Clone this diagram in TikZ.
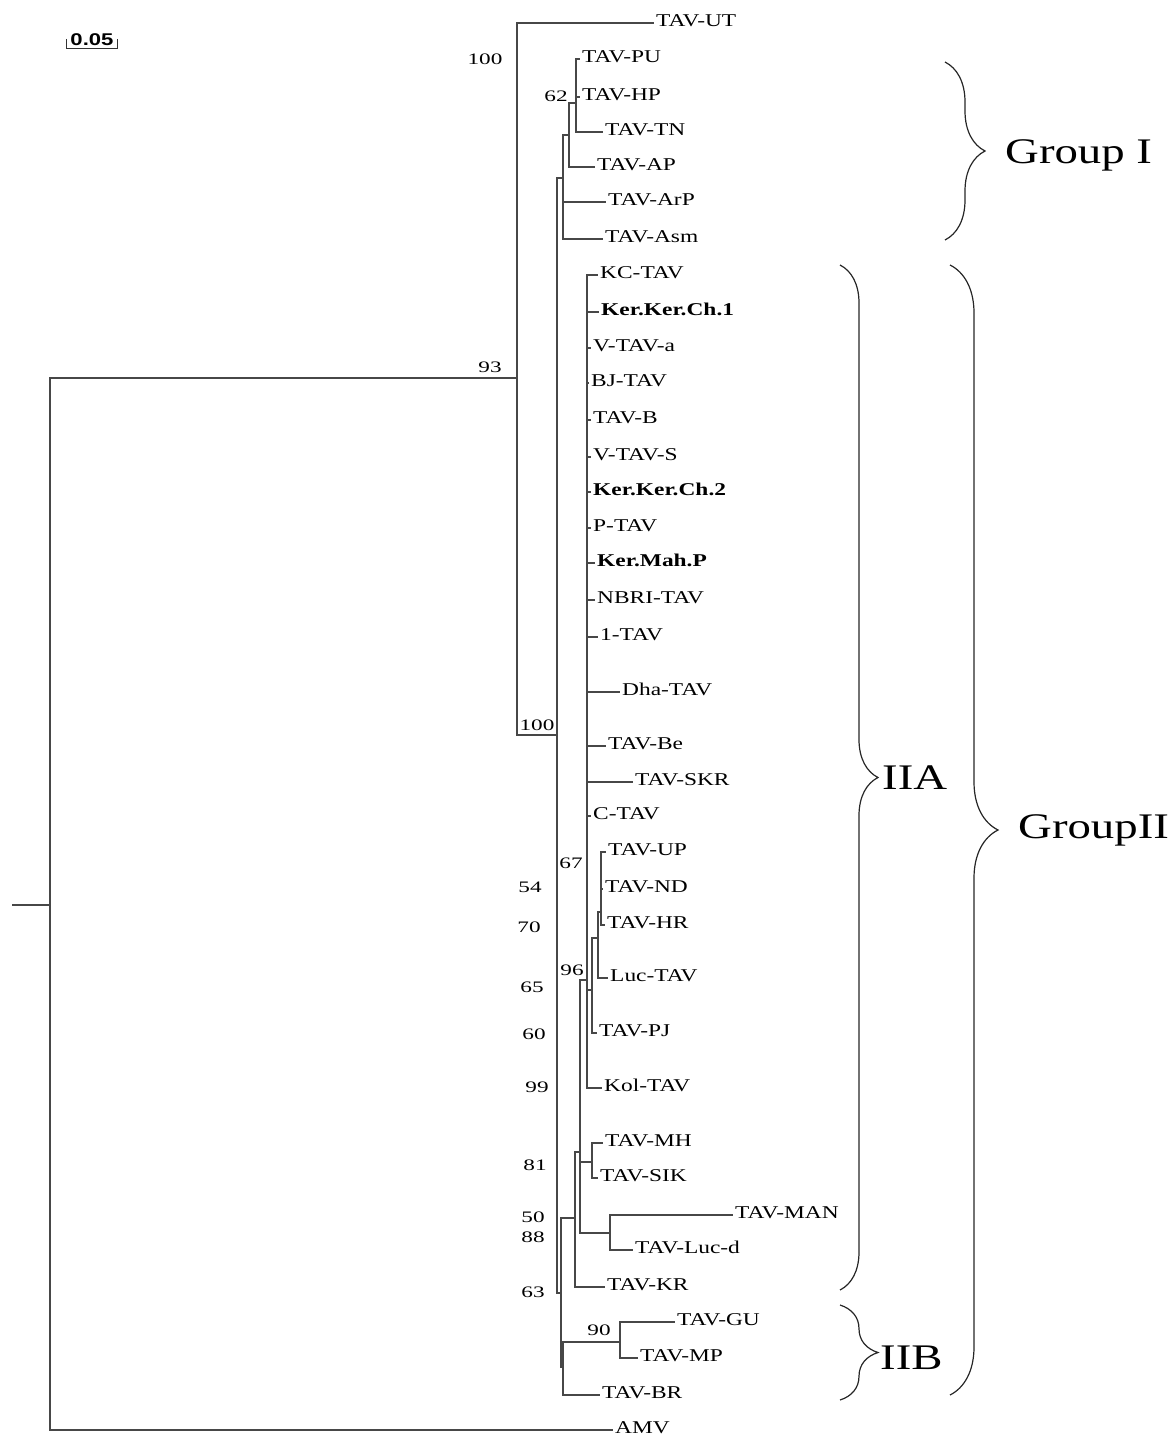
\documentclass[tikz,border=0pt]{standalone}
\usepackage{fontspec}
\setmainfont{Liberation Serif}[FakeStretch=1.3]
\newfontfamily\numfnt{Liberation Serif}[FakeStretch=1.45]
\newfontfamily\sbfnt{Liberation Sans}[FakeStretch=1.3]
\usetikzlibrary{decorations.pathreplacing}
\begin{document}
\begin{tikzpicture}[x=1pt,y=-1pt,
  br/.style={draw=black!72,line width=1.3pt},
  leaf/.style={anchor=west,inner xsep=2pt,inner ysep=0pt,text height=0.66em,text depth=0pt,font=\fontsize{18}{18}\selectfont},
  bs/.style={font=\numfnt\fontsize{16}{16}\selectfont,inner sep=0pt},
  grp/.style={anchor=west,inner sep=0pt,font=\fontsize{36}{36}\selectfont},
  brc/.style={draw=black!85,line width=1.2pt,decorate}]
\useasboundingbox (0,0) rectangle (1171,1437);
% internal nodes
\coordinate (rs) at (12,905);
\coordinate (root) at (50,905);
\coordinate (N517) at (517,378);
\coordinate (N557) at (557,735);
\coordinate (G1) at (563,178);
\coordinate (NA) at (569,135);
\coordinate (NB) at (576,103);
\coordinate (N63) at (561,1293);
\coordinate (N88) at (575,1218);
\coordinate (N81) at (580,1152);
\coordinate (NMH) at (592,1162);
\coordinate (NMAN) at (610,1233);
\coordinate (N96) at (587,980);
\coordinate (N592) at (592,990);
\coordinate (N598) at (598,938);
\coordinate (N601) at (601,912);
\coordinate (NIIB) at (563,1367);
\coordinate (N90) at (620,1342);
% leaves
\node[leaf] (UT) at (654,23) {TAV-UT};
\node[leaf] (PU) at (580,59) {TAV-PU};
\node[leaf] (HP) at (580,97) {TAV-HP};
\node[leaf] (TN) at (603,132) {TAV-TN};
\node[leaf] (AP) at (595,167) {TAV-AP};
\node[leaf] (ArP) at (606,202) {TAV-ArP};
\node[leaf] (Asm) at (603,239) {TAV-Asm};
\node[leaf] (KC) at (598,275) {KC-TAV};
\node[leaf] (K1) at (599,312) {\bfseries Ker.Ker.Ch.1};
\node[leaf] (Va) at (591,348) {V-TAV-a};
\node[leaf] (BJ) at (589,383) {BJ-TAV};
\node[leaf] (B) at (591,420) {TAV-B};
\node[leaf] (VS) at (591,457) {V-TAV-S};
\node[leaf] (K2) at (591,492) {\bfseries Ker.Ker.Ch.2};
\node[leaf] (P) at (591,528) {P-TAV};
\node[leaf] (KMP) at (595,563) {\bfseries Ker.Mah.P};
\node[leaf] (NBRI) at (595,600) {NBRI-TAV};
\node[leaf] (T1) at (598,637) {1-TAV};
\node[leaf] (Dha) at (620,692) {Dha-TAV};
\node[leaf] (Be) at (606,746) {TAV-Be};
\node[leaf] (SKR) at (633,782) {TAV-SKR};
\node[leaf] (C) at (591,816) {C-TAV};
\node[leaf] (UP) at (606,852) {TAV-UP};
\node[leaf] (ND) at (603,889) {TAV-ND};
\node[leaf] (HR) at (605,925) {TAV-HR};
\node[leaf] (Luc) at (608,978) {Luc-TAV};
\node[leaf] (PJ) at (597,1033) {TAV-PJ};
\node[leaf] (Kol) at (602,1088) {Kol-TAV};
\node[leaf] (MH) at (603,1143) {TAV-MH};
\node[leaf] (SIK) at (598,1178) {TAV-SIK};
\node[leaf] (MAN) at (733,1215) {TAV-MAN};
\node[leaf] (Lucd) at (633,1250) {TAV-Luc-d};
\node[leaf] (KR) at (605,1287) {TAV-KR};
\node[leaf] (GU) at (675,1322) {TAV-GU};
\node[leaf] (MP) at (638,1358) {TAV-MP};
\node[leaf] (BR) at (600,1395) {TAV-BR};
\node[leaf] (AMV) at (613,1430) {AMV};
% branches between internal nodes
\draw[br] (rs) -- (root);
\foreach \p/\c in {root/N517,N517/N557,N557/G1,G1/NA,NA/NB,N557/N63,N63/N88,N88/N81,
  N81/N96,N81/NMH,N81/NMAN,N96/N592,N592/N598,N598/N601,N63/NIIB,NIIB/N90}
  \draw[br] (\p) |- (\c);
% terminal branches
\foreach \p/\c in {N517/UT,NB/PU,NB/HP,NB/TN,NA/AP,G1/ArP,G1/Asm,
  N96/KC,N96/K1,N96/Va,N96/BJ,N96/B,N96/VS,N96/K2,N96/P,N96/KMP,N96/NBRI,N96/T1,
  N96/Dha,N96/Be,N96/SKR,N96/C,N96/Kol,N592/PJ,N598/Luc,N601/UP,N601/ND,N601/HR,
  NMH/MH,NMH/SIK,NMAN/MAN,NMAN/Lucd,N88/KR,N90/GU,N90/MP,NIIB/BR,root/AMV}
  \draw[br] (\p) |- (\c.west);
% bootstrap values
\node[bs] (b1) at (485,59) {100};
\node[bs] (b2) at (556,96) {62};
\node[bs] (b3) at (490,367) {93};
\node[bs] (b4) at (537,725) {100};
\node[bs] (b5) at (571,863) {67};
\node[bs] (b6) at (530,887) {54};
\node[bs] (b7) at (529,927) {70};
\node[bs] (b8) at (572,970) {96};
\node[bs] (b9) at (532,987) {65};
\node[bs] (b10) at (534,1034) {60};
\node[bs] (b11) at (537,1087) {99};
\node[bs] (b12) at (535,1165) {81};
\node[bs] (b13) at (533,1217) {50};
\node[bs] (b14) at (533,1237) {88};
\node[bs] (b15) at (533,1292) {63};
\node[bs] (b16) at (599,1330) {90};
% scale bar
\node[font=\sbfnt\bfseries\fontsize{17}{17}\selectfont,inner sep=0pt] (sb) at (92,40) {0.05};
\draw[black!80,line width=1pt] (66,39) |- (117,49) -- (117,39);
% braces
\draw[brc,decoration={brace,amplitude=40pt}] (945,62) -- (945,240);
\draw[brc,decoration={brace,amplitude=38pt}] (840,265) -- (840,1290);
\draw[brc,decoration={brace,amplitude=48pt}] (950,265) -- (950,1395);
\draw[brc,decoration={brace,amplitude=38pt}] (840,1305) -- (840,1400);
\node[grp] (g1) at (1005,155) {Group I};
\node[grp] (g2a) at (882,778) {IIA};
\node[grp] (g2) at (1018,830) {GroupII};
\node[grp] (g2b) at (880,1358) {IIB};
\end{tikzpicture}
\end{document}
